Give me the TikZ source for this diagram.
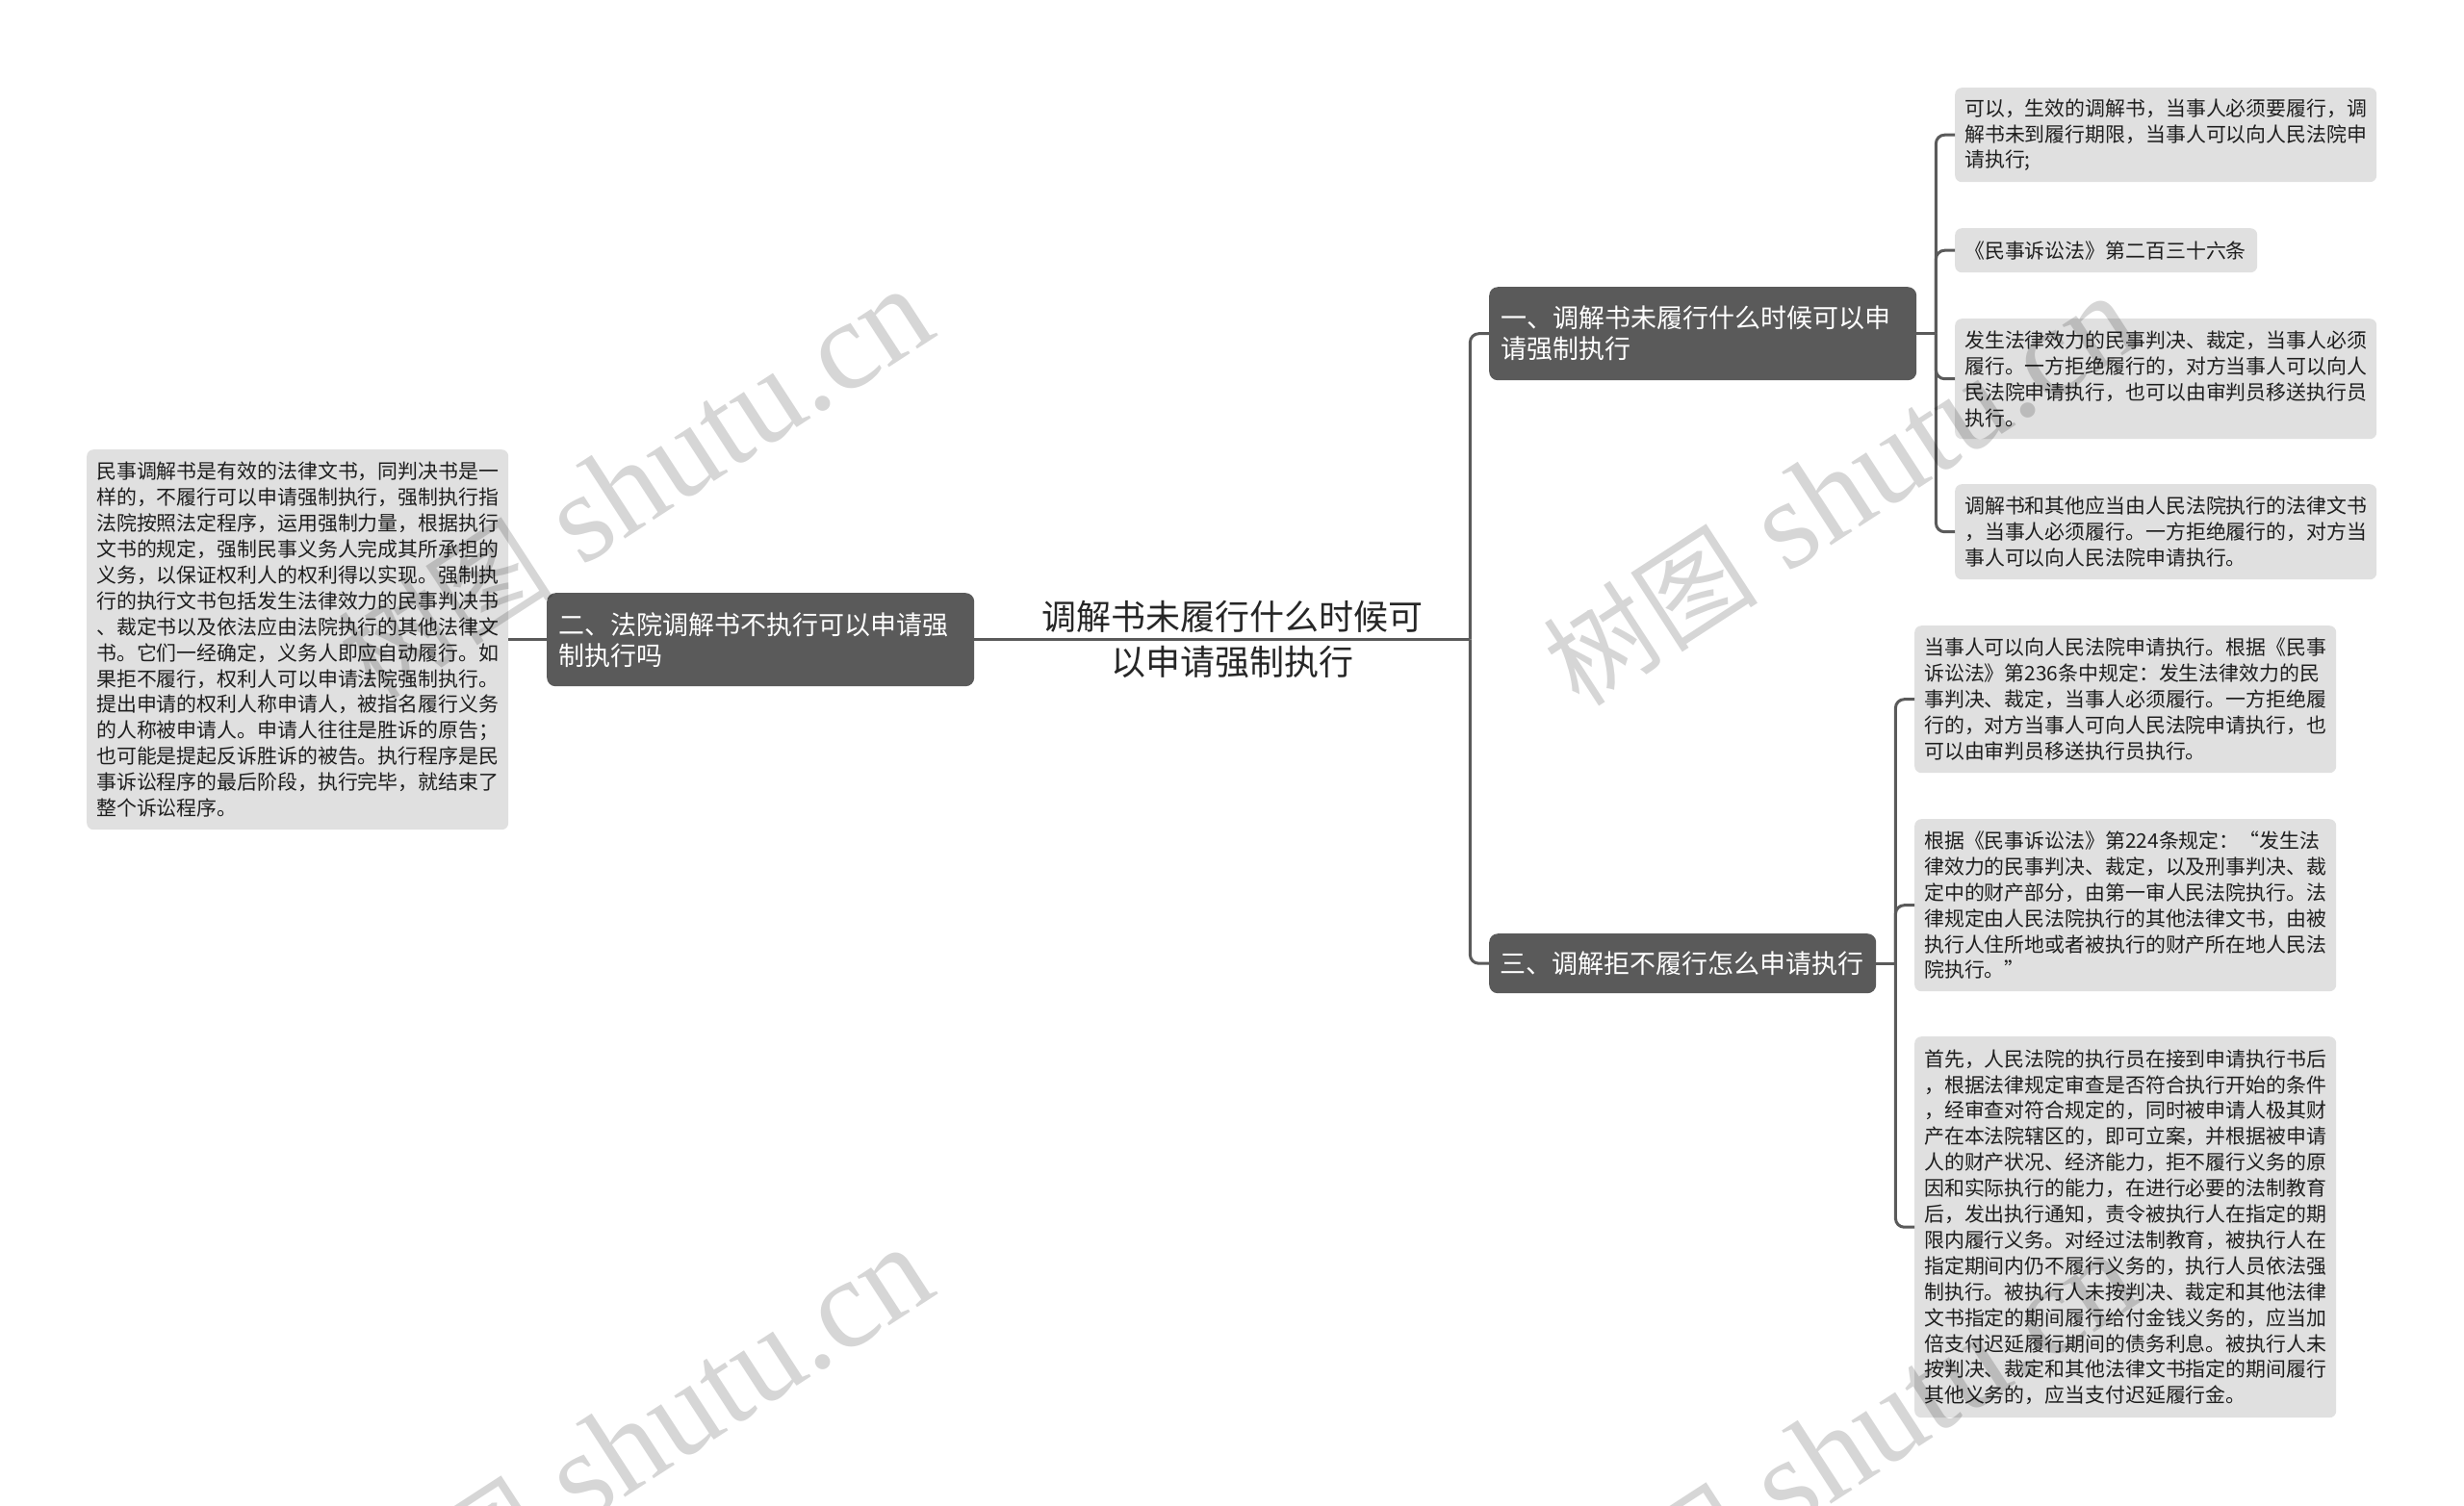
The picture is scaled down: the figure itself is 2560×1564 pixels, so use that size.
\documentclass[tikz,border=0pt]{standalone}
\usepackage{fontspec}
\setmainfont{Noto Sans CJK SC}
\newfontfamily\wmlatin{Liberation Serif}
\usetikzlibrary{calc}
\definecolor{darkbox}{RGB}{90,90,90}
\definecolor{leafbox}{RGB}{224,224,224}
\definecolor{roottext}{RGB}{38,38,38}
\definecolor{leaftext}{RGB}{30,30,30}
\begin{document}
\begin{tikzpicture}[x=1pt,y=-1pt,
  conn/.style={draw=darkbox, line width=3pt, rounded corners=9pt},
  topic/.style={anchor=north west, fill=darkbox, text=white, rounded corners=9pt,
    inner xsep=12pt, inner ysep=0pt, align=left, font=\fontsize{27pt}{32pt}\selectfont},
  leaf/.style={anchor=north west, fill=leafbox, text=leaftext, rounded corners=7pt,
    inner xsep=10pt, inner ysep=0pt, align=left, font=\fontsize{20.9pt}{26.9pt}\selectfont},
  wm/.style={rotate=33, text=black, text opacity=0.16, inner sep=0pt,
    font=\fontsize{112pt}{112pt}\selectfont}
]
\useasboundingbox (0,0) rectangle (2560,1564);
\fill[white] (0,0) rectangle (2560,1564);

% root
\node[text=roottext, align=center, font=\fontsize{36pt}{47pt}\selectfont, inner sep=0pt]
  (R) at (1280,664) {调解书未履行什么时候可\\以申请强制执行};

% left side
\node[leaf, text width=418pt, minimum height=395pt] (L) at (90,467)
{民事调解书是有效的法律文书，同判决书是一\\
样的，不履行可以申请强制执行，强制执行指\\
法院按照法定程序，运用强制力量，根据执行\\
文书的规定，强制民事义务人完成其所承担的\\
义务，以保证权利人的权利得以实现。强制执\\
行的执行文书包括发生法律效力的民事判决书\\
、裁定书以及依法应由法院执行的其他法律文\\
书。它们一经确定，义务人即应自动履行。如\\
果拒不履行，权利人可以申请法院强制执行。\\
提出申请的权利人称申请人，被指名履行义务\\
的人称被申请人。申请人往往是胜诉的原告；\\
也可能是提起反诉胜诉的被告。执行程序是民\\
事诉讼程序的最后阶段，执行完毕，就结束了\\
整个诉讼程序。};

\node[topic, text width=420pt, minimum height=97pt] (B2) at (568,616)
{二、法院调解书不执行可以申请强\\制执行吗};

% right topics
\node[topic, text width=420pt, minimum height=97pt] (B1) at (1547,298)
{一、调解书未履行什么时候可以申\\请强制执行};
\node[topic, text width=380pt, inner xsep=11pt, minimum height=62pt] (B3) at (1547,970)
{三、调解拒不履行怎么申请执行};

% leaves of topic 1
\node[leaf, text width=418pt, minimum height=98pt] (c1) at (2031,91)
{可以，生效的调解书，当事人必须要履行，调\\
解书未到履行期限，当事人可以向人民法院申\\
请执行;};
\node[leaf, text width=294pt, minimum height=46pt] (c2) at (2031,237)
{《民事诉讼法》第二百三十六条};
\node[leaf, text width=418pt, minimum height=125pt] (c3) at (2031,331)
{发生法律效力的民事判决、裁定，当事人必须\\
履行。一方拒绝履行的，对方当事人可以向人\\
民法院申请执行，也可以由审判员移送执行员\\
执行。};
\node[leaf, text width=418pt, minimum height=99pt] (c4) at (2031,503)
{调解书和其他应当由人民法院执行的法律文书\\
，当事人必须履行。一方拒绝履行的，对方当\\
事人可以向人民法院申请执行。};

% leaves of topic 3
\node[leaf, text width=418pt, minimum height=153pt] (d1) at (1989,650)
{当事人可以向人民法院申请执行。根据《民事\\
诉讼法》第236条中规定：发生法律效力的民\\
事判决、裁定，当事人必须履行。一方拒绝履\\
行的，对方当事人可向人民法院申请执行，也\\
可以由审判员移送执行员执行。};
\node[leaf, text width=418pt, minimum height=179pt] (d2) at (1989,851)
{根据《民事诉讼法》第224条规定：“发生法\\
律效力的民事判决、裁定，以及刑事判决、裁\\
定中的财产部分，由第一审人民法院执行。法\\
律规定由人民法院执行的其他法律文书，由被\\
执行人住所地或者被执行的财产所在地人民法\\
院执行。”};
\node[leaf, text width=418pt, minimum height=396pt] (d3) at (1989,1077)
{首先，人民法院的执行员在接到申请执行书后\\
，根据法律规定审查是否符合执行开始的条件\\
，经审查对符合规定的，同时被申请人极其财\\
产在本法院辖区的，即可立案，并根据被申请\\
人的财产状况、经济能力，拒不履行义务的原\\
因和实际执行的能力，在进行必要的法制教育\\
后，发出执行通知，责令被执行人在指定的期\\
限内履行义务。对经过法制教育，被执行人在\\
指定期间内仍不履行义务的，执行人员依法强\\
制执行。被执行人未按判决、裁定和其他法律\\
文书指定的期间履行给付金钱义务的，应当加\\
倍支付迟延履行期间的债务利息。被执行人未\\
按判决、裁定和其他法律文书指定的期间履行\\
其他义务的，应当支付迟延履行金。};

% junction points
\coordinate (T0) at ($(B2.east)+(515,0)$);
\coordinate (T1) at ($(B1.east)+(20,0)$);
\coordinate (T3) at ($(B3.east)+(20,0)$);

% connectors
\draw[conn] (L.east) -- (B2.west);
\draw[conn] (B2.east) -- (T0);
\draw[conn] (T0) -- (T0 |- B1.west) -- (B1.west);
\draw[conn] (T0) -- (T0 |- B3.west) -- (B3.west);
\draw[conn] (B1.east) -- (T1);
\foreach \c in {c1,c2,c3,c4} \draw[conn] (T1) -- (T1 |- \c.west) -- (\c.west);
\draw[conn] (B3.east) -- (T3);
\foreach \c in {d1,d2,d3} \draw[conn] (T3) -- (T3 |- \c.west) -- (\c.west);

% watermarks
\node[wm] (W1) at (660,503) {树图{\wmlatin\fontsize{132pt}{132pt}\selectfont\ shutu.cn}};
\node[wm] (W2) at (1912,510) {树图{\wmlatin\fontsize{132pt}{132pt}\selectfont\ shutu.cn}};
\node[wm] (W3) at (660,1499) {树图{\wmlatin\fontsize{132pt}{132pt}\selectfont\ shutu.cn}};
\node[wm] (W4) at (1912,1506) {树图{\wmlatin\fontsize{132pt}{132pt}\selectfont\ shutu.cn}};
\end{tikzpicture}
\end{document}
